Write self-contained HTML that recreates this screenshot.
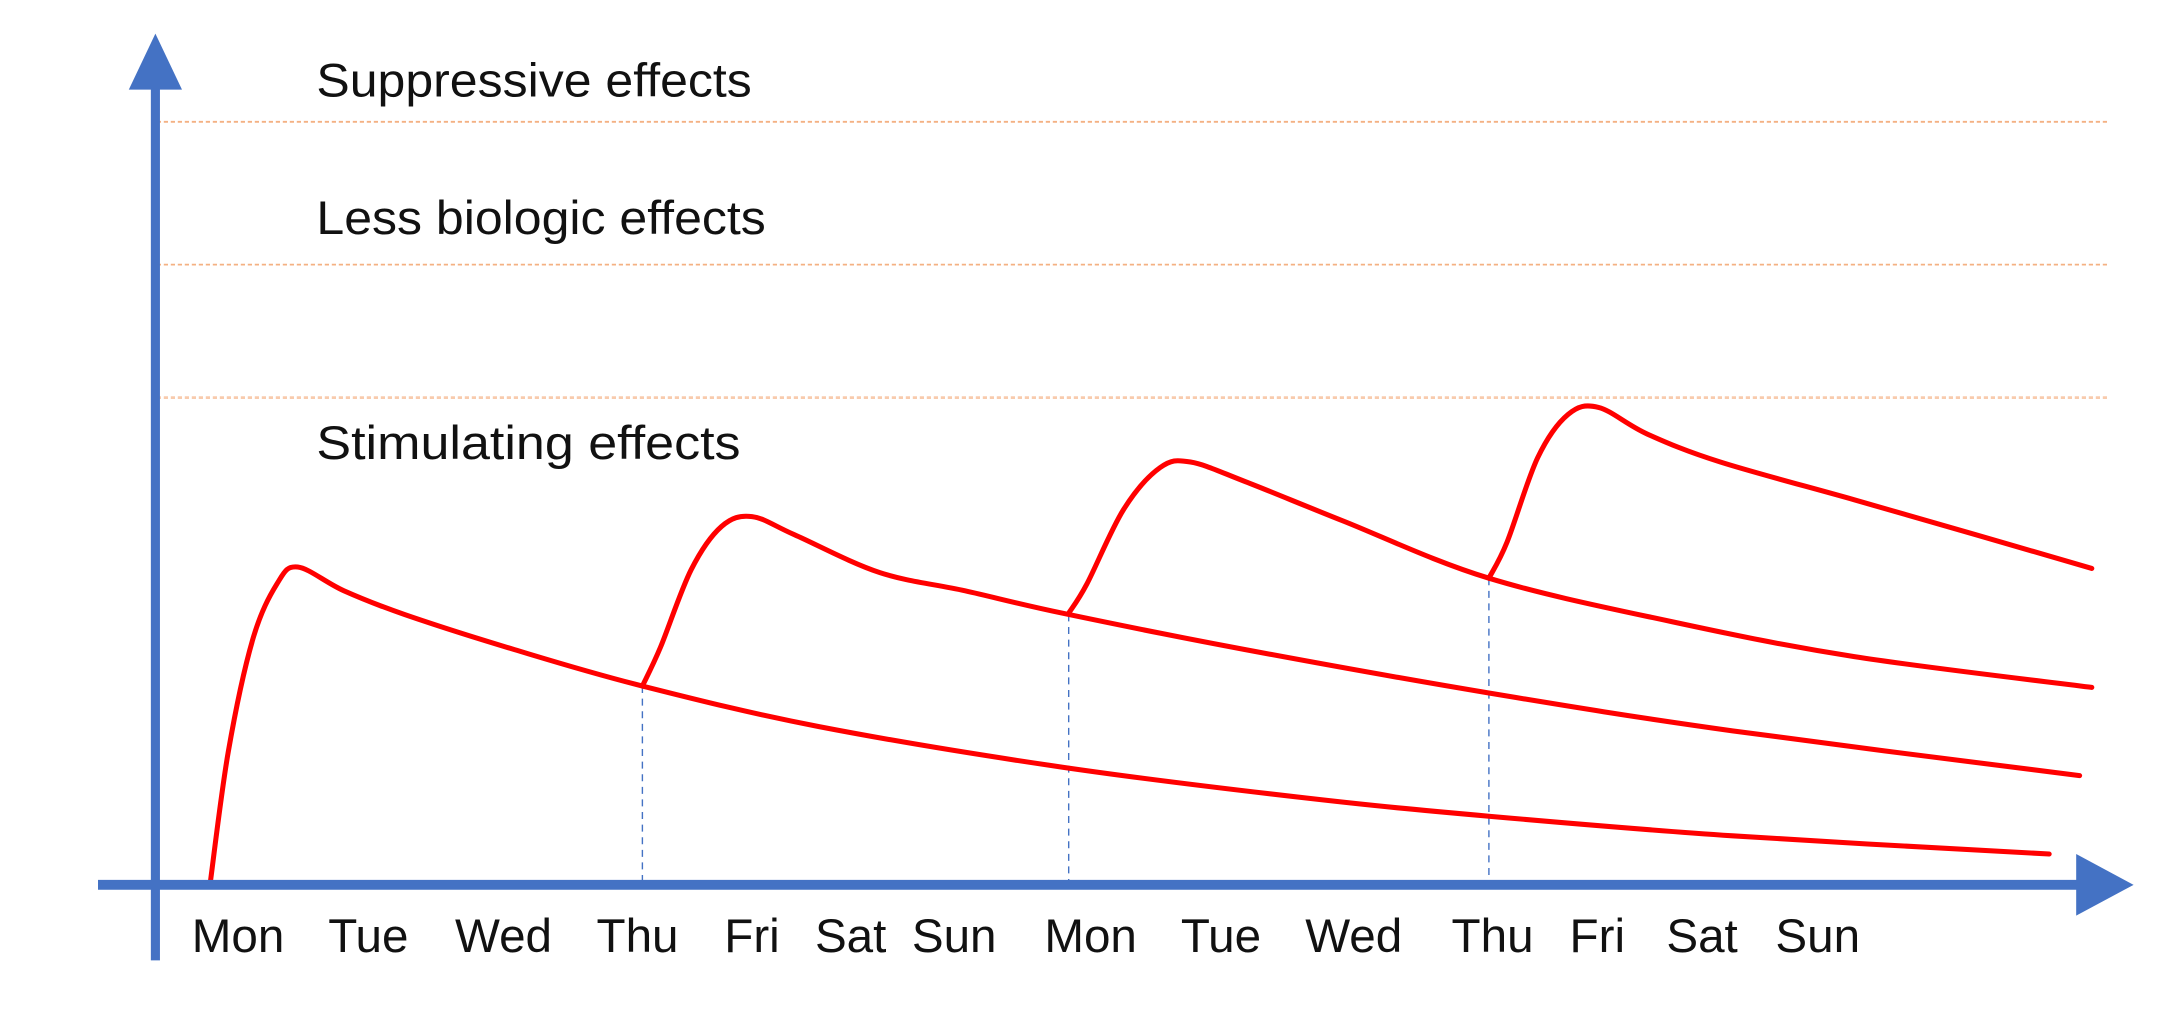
<!DOCTYPE html>
<html><head><meta charset="utf-8">
<style>
html,body{margin:0;padding:0;background:#fff;}
svg{display:block;}
text{font-family:"Liberation Sans",sans-serif;fill:#111;}
</style></head>
<body>
<svg id="chart" width="2184" height="1024" viewBox="0 0 1560 731.4" xmlns="http://www.w3.org/2000/svg">
  <g>
    <line x1="112" y1="87" x2="1505" y2="87" stroke="#f4b183" stroke-width="1.3" stroke-dasharray="3 2"/>
    <line x1="112" y1="189" x2="1505" y2="189" stroke="#f4b183" stroke-width="1.3" stroke-dasharray="3 2"/>
    <line x1="112" y1="284" x2="1505" y2="284" stroke="#f8cbad" stroke-width="2" stroke-dasharray="3 2"/>
  </g>
  <text x="226" y="69" font-size="34" textLength="311" lengthAdjust="spacingAndGlyphs">Suppressive effects</text>
  <text x="226" y="167" font-size="34" textLength="321" lengthAdjust="spacingAndGlyphs">Less biologic effects</text>
  <text x="226" y="328" font-size="34" textLength="303" lengthAdjust="spacingAndGlyphs">Stimulating effects</text>
  <g id="marks"></g>
  <g>
    <line x1="111" y1="60" x2="111" y2="686" stroke="#4472c4" stroke-width="6.5"/>
    <polygon points="111,24 92,64 130,64" fill="#4472c4"/>
    <line x1="70" y1="632" x2="1488" y2="632" stroke="#4472c4" stroke-width="7"/>
    <polygon points="1524,632 1483,610 1483,654" fill="#4472c4"/>
  </g>
  <g id="xlabels"></g>
</svg>
<script>
const dayLabels = ["Mon","Tue","Wed","Thu","Fri","Sat","Sun","Mon","Tue","Wed","Thu","Fri","Sat","Sun"];
const labelCenters = [0.23,1.30,2.41,3.51,4.45,5.26,6.11,7.23,8.30,9.39,10.53,11.39,12.25,13.20];
const doseDays = [3.55, 7.05, 10.5];
const series1 = [[0,0],[0.15,95],[0.35,175],[0.55,215],[0.72,227],[1.1,210],[1.6,193],[2.5,168],[3.55,142],[5,113],[7,84],[9,62],[10.5,49],[12.5,35],[15.1,22]];
const series2 = [[3.55,142],[3.7,170],[3.95,225],[4.2,256],[4.45,263],[4.8,250],[5.5,223],[6.2,210],[7,194],[8.5,168],[10.5,137],[12.5,110],[15.35,78]];
const series3 = [[7.05,194],[7.2,215],[7.5,268],[7.8,298],[8.05,302],[8.5,288],[9.3,260],[10.5,219],[12,188],[13.5,163],[15.45,141]];
const series4 = [[10.5,219],[10.65,245],[10.9,305],[11.15,336],[11.4,341],[11.8,322],[12.4,302],[13.5,275],[14.5,250],[15.45,226]];

const NS = "http://www.w3.org/2000/svg";
function xs(d){ return 150 + 87*d; }
function ys(v){ return 632 - v; }
function interpAt(s, d){
  for(let i=0;i<s.length-1;i++){
    if(d>=s[i][0] && d<=s[i+1][0]){
      const t=(d-s[i][0])/(s[i+1][0]-s[i][0]);
      return s[i][1]+t*(s[i+1][1]-s[i][1]);
    }
  }
  return s[s.length-1][1];
}
function pathFor(s){
  const p = s.map(q=>[xs(q[0]),ys(q[1])]);
  let d = "M"+p[0][0]+","+p[0][1];
  for(let i=0;i<p.length-1;i++){
    const p0=p[i-1]||p[i], p1=p[i], p2=p[i+1], p3=p[i+2]||p2;
    const c1=[p1[0]+(p2[0]-p0[0])/6, p1[1]+(p2[1]-p0[1])/6];
    const c2=[p2[0]-(p3[0]-p1[0])/6, p2[1]-(p3[1]-p1[1])/6];
    d += " C"+c1[0]+","+c1[1]+" "+c2[0]+","+c2[1]+" "+p2[0]+","+p2[1];
  }
  return d;
}
const marks = document.getElementById("marks");
const prior = [series1, series2, series3];
doseDays.forEach((dd,i)=>{
  const l = document.createElementNS(NS,"line");
  
  
  l.setAttribute("x1", xs(dd)); l.setAttribute("x2", xs(dd));
  l.setAttribute("y1", ys(interpAt(prior[i], dd))); l.setAttribute("y2", 630);
  l.setAttribute("stroke","#4472c4"); l.setAttribute("stroke-width","1");
  l.setAttribute("stroke-dasharray","5 4");
  marks.appendChild(l);
});
[series1,series2,series3,series4].forEach((s,i)=>{
  const p = document.createElementNS(NS,"path");
  
  
  p.setAttribute("d", pathFor(s));
  p.setAttribute("fill","none"); p.setAttribute("stroke","#ff0000");
  p.setAttribute("stroke-width","3.6"); p.setAttribute("stroke-linecap","round");
  marks.appendChild(p);
});
const xl = document.getElementById("xlabels");
dayLabels.forEach((t,i)=>{
  const e = document.createElementNS(NS,"text");
  
  
  e.setAttribute("x", xs(labelCenters[i]));
  e.setAttribute("y", 680);
  e.setAttribute("font-size","34");
  e.setAttribute("text-anchor","middle");
  e.textContent = t;
  xl.appendChild(e);
});
</script>
</body></html>
